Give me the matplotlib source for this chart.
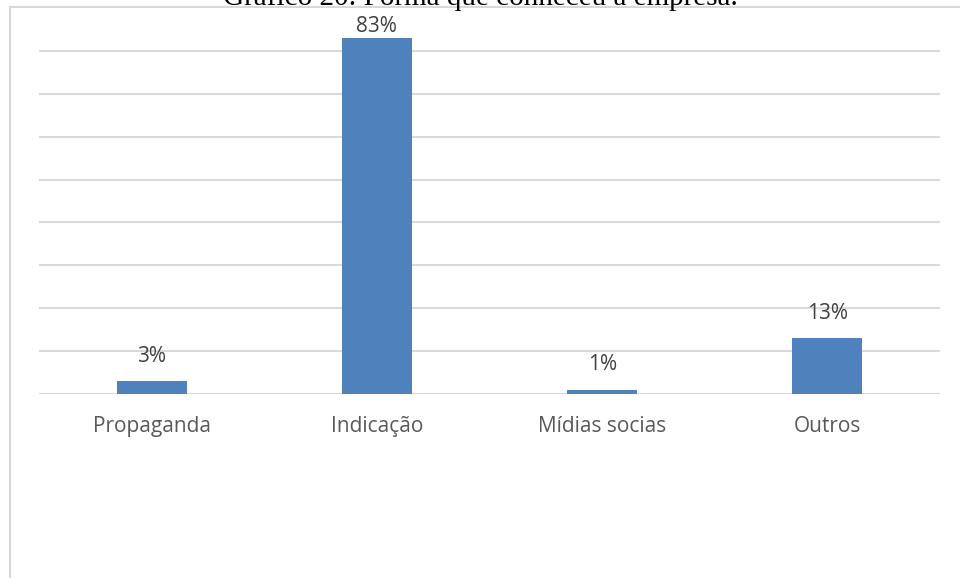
import matplotlib.pyplot as plt
import matplotlib.patches as mpatches
import numpy as np

categorias = ['Propaganda', 'Indicação', 'Mídias socias', 'Outros']
valores = [3, 83, 1, 13]
rotulos = ['3%', '83%', '1%', '13%']

fig = plt.figure(figsize=(9.6, 5.78), dpi=100)
ax = fig.add_axes([39 / 960, 1 - 394 / 578, 901 / 960, 386 / 578])

# moldura cinza em volta do gráfico
moldura = mpatches.Rectangle((9.5 / 960, -0.05), 1.2, 1 - 7 / 578 + 0.05,
                             transform=fig.transFigure, fill=False,
                             edgecolor='#d9d9d9', linewidth=1.5, zorder=0)
fig.patches.append(moldura)

x = np.arange(len(categorias))
ax.bar(x, valores, width=0.31, color='#4f81bd', zorder=3)

# rótulos acima das barras, sem sair da área do gráfico
for xi, v, r in zip(x, valores, rotulos):
    ax.text(xi, min(v + 5.8, 85.8), r, ha='center', va='center', fontsize=15,
            color='#404040', family='Open Sans')

ax.set_xlim(-0.5, len(categorias) - 0.5)
ax.set_ylim(0, 90)
ax.set_yticks(np.arange(0, 90, 10))
ax.yaxis.grid(True, color='#d9d9d9', linewidth=1.5, zorder=0)
ax.tick_params(left=False, labelleft=False, bottom=False)
ax.set_xticks(x)
ax.set_xticklabels(categorias, fontsize=15, color='#595959', family='Open Sans')
ax.tick_params(axis='x', pad=12)
for s in ax.spines.values():
    s.set_visible(False)

fig.text(0.5, 1 - 5 / 578, 'Gráfico 20: Forma que conheceu a empresa.',
         ha='center', va='baseline', fontsize=21, family='Liberation Serif',
         color='black')

fig.savefig('out.png', dpi=100)
